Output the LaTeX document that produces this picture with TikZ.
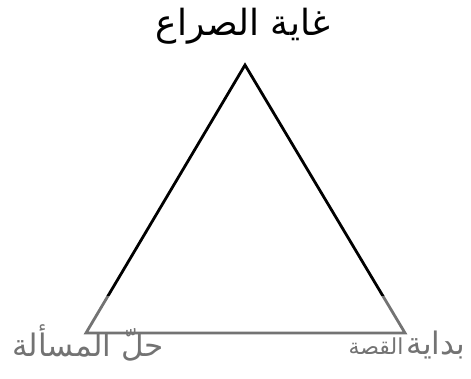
\documentclass[tikz,border=0pt]{standalone}
\usepackage{fontspec}
\newfontfamily\arabicfont[Script=Arabic]{DejaVu Sans}
\TeXXeTstate=1
\usetikzlibrary{positioning}

\begin{document}
\begin{tikzpicture}[
    x=1pt, y=1pt,
    side/.style={draw, line width=2.8pt, line join=miter},
    stage/.style={inner sep=0pt, font=\arabicfont}
]
\useasboundingbox (0,0) rectangle (471,379);

% ---------------- CORNERS ----------------
\coordinate (peak)  at (245,314);
\coordinate (begin) at (405,46);
\coordinate (solve) at (86,46);

% ---------------- LABELS ----------------
\node[stage, font=\arabicfont\fontsize{36}{40}\selectfont] (climax)  at (243,353) {\beginR غاية الصراع\endR};
\node[stage, font=\arabicfont\fontsize{31}{36}\selectfont] (ending)  at (88,36)   {\beginR حلّ المسألة\endR};
\node[stage]                                               (opening) at (407,34)  {\beginR{\fontsize{31}{36}\selectfont بداية} {\fontsize{22}{26}\selectfont القصة}\endR};

% Triangle:
\draw[side] (peak) -- (begin) -- (solve) -- cycle;

% faded lower band
\fill[white, opacity=0.45] (0,0) rectangle (471,83);

\end{tikzpicture}
\end{document}
